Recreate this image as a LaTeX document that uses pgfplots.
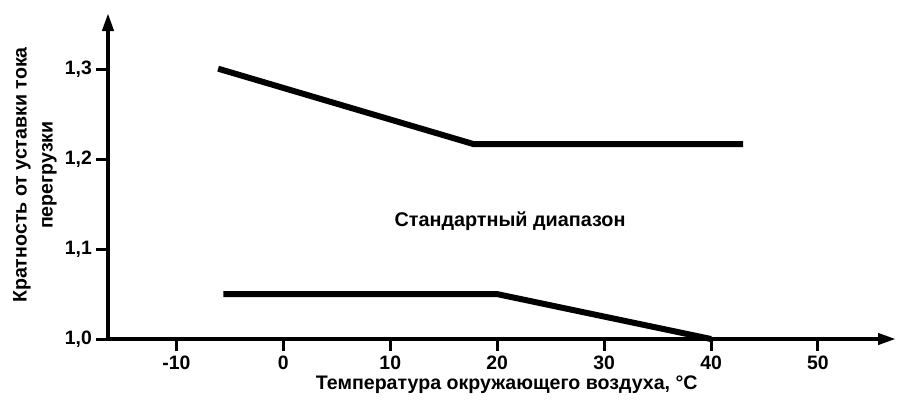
\documentclass[border=0pt]{standalone}
\usepackage{fontspec}
\setmainfont{Liberation Sans}
\usepackage{pgfplots}
\pgfplotsset{compat=1.18}
\usetikzlibrary{arrows.meta}
\begin{document}
\begin{tikzpicture}
\begin{axis}[
  scale only axis,
  width=394pt, height=163pt,
  xmin=-16.4, xmax=57.3, ymin=1.0, ymax=1.363,
  clip=false,
  axis lines=left,
  axis line style={line width=2pt, -{Triangle[length=9pt,width=5.5pt]}},
  xtick={-10,0,10,20,30,40,50},
  ytick={1.0,1.1,1.2,1.3},
  tick style={line width=1.5pt, black},
  tick align=outside,
  major tick length=6pt,
  /pgf/number format/assume math mode=true,
  yticklabel style={/pgf/number format/fixed, /pgf/number format/fixed zerofill, /pgf/number format/precision=1, /pgf/number format/use comma, xshift=1.5pt},
  ticklabel style={font=\bfseries\fontsize{9.7}{11}\selectfont},
  xticklabel style={yshift=1pt},
  xlabel={Температура окружающего воздуха, °C},
  xlabel style={font=\bfseries\fontsize{9.8}{11}\selectfont, at={(axis description cs:0.506,0)}, anchor=center, yshift=-23pt},
  ylabel={Кратность от уставки тока\\перегрузки},
  ylabel style={font=\bfseries\fontsize{9.8}{13}\selectfont, align=center, at={(axis description cs:-0.0926,0.503)}, anchor=center},
]
\addplot[line width=3pt, black] coordinates {(-6.1,1.301) (17.8,1.217) (43,1.217)};
\addplot[line width=3pt, black] coordinates {(-5.6,1.05) (20,1.05) (40,1.0)};
\node[font=\bfseries\fontsize{9.9}{11}\selectfont] at (axis cs:21.2,1.1316) {Стандартный диапазон};
\coordinate (O) at (rel axis cs:0,0);
\end{axis}
\pgfresetboundingbox
\path ([shift={(-54pt,-32pt)}]O) rectangle +(449.5pt,201.5pt);
\end{tikzpicture}
\end{document}
